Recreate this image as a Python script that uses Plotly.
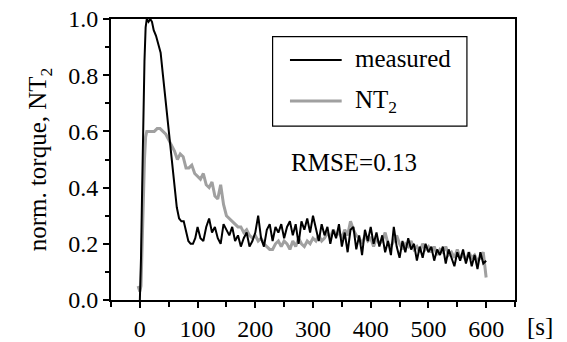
import plotly.graph_objects as go

# ---- data ----
t_meas = [0, 2, 4, 6, 8, 10, 12, 15, 18, 21, 24, 28, 32, 36, 40, 44, 48, 52, 56, 60,
          64, 68, 72, 76, 80, 84, 88, 92, 96, 100,
          105, 110, 115, 120, 125, 130, 135, 140, 145, 150, 155, 160, 165, 170, 175, 180,
          185, 190, 195, 200, 205, 210, 215, 220, 225, 230, 235, 240, 245, 250, 255, 260,
          265, 270, 275, 280, 285, 290, 295, 300, 305, 310, 315, 320, 325, 330, 335, 340,
          345, 350, 355, 360, 365, 370, 375, 380, 385, 390, 395, 400, 405, 410, 415, 420,
          425, 430, 435, 440, 445, 450, 455, 460, 465, 470, 475, 480, 485, 490, 495, 500,
          505, 510, 515, 520, 525, 530, 535, 540, 545, 550, 555, 560, 565, 570, 575, 580,
          585, 590, 595, 600]
measured = [0.00, 0.15, 0.40, 0.65, 0.85, 0.97, 1.00, 0.99, 1.00, 0.99, 0.96, 0.94, 0.91, 0.88, 0.80, 0.72, 0.63, 0.56, 0.48, 0.40,
            0.33, 0.29, 0.28, 0.28, 0.25, 0.21, 0.20, 0.20, 0.22, 0.26,
            0.22, 0.21, 0.26, 0.29, 0.24, 0.26, 0.22, 0.20, 0.27, 0.25, 0.23, 0.26, 0.21, 0.23, 0.19, 0.22,
            0.24, 0.19, 0.21, 0.24, 0.30, 0.22, 0.19, 0.25, 0.27, 0.21, 0.26, 0.24, 0.27, 0.22, 0.26, 0.28,
            0.23, 0.27, 0.20, 0.28, 0.25, 0.29, 0.24, 0.30, 0.25, 0.21, 0.27, 0.23, 0.26, 0.20, 0.25, 0.22,
            0.27, 0.19, 0.24, 0.17, 0.25, 0.26, 0.18, 0.23, 0.16, 0.25, 0.21, 0.26, 0.20, 0.24, 0.19, 0.23,
            0.17, 0.21, 0.16, 0.26, 0.19, 0.15, 0.21, 0.17, 0.22, 0.18, 0.20, 0.14, 0.19, 0.15, 0.20, 0.17,
            0.19, 0.14, 0.18, 0.16, 0.19, 0.13, 0.18, 0.15, 0.12, 0.17, 0.14, 0.18, 0.13, 0.17, 0.12, 0.16,
            0.11, 0.17, 0.13, 0.14]

t_nt2 = [-3, 0, 2, 4, 6, 8, 10, 12, 15, 20, 25, 30, 35, 40, 45, 50, 55, 60, 65, 70, 75, 80,
         85, 90, 95, 100, 105, 110, 115, 120, 125, 130, 135, 140, 145, 150, 155, 160, 165, 170,
         175, 180, 185, 190, 195, 200, 205, 210, 215, 220, 225, 230, 235, 240, 245, 250, 255, 260,
         265, 270, 275, 280, 285, 290, 295, 300, 305, 310, 315, 320, 325, 330, 335, 340, 345, 350,
         355, 360, 365, 370, 375, 380, 385, 390, 395, 400, 405, 410, 415, 420, 425, 430, 435, 440,
         445, 450, 455, 460, 465, 470, 475, 480, 485, 490, 495, 500, 505, 510, 515, 520, 525, 530,
         535, 540, 545, 550, 555, 560, 565, 570, 575, 580, 585, 590, 595, 600]
nt2 = [0.05, 0.03, 0.05, 0.20, 0.38, 0.50, 0.58, 0.60, 0.60, 0.60, 0.60, 0.61, 0.61, 0.60, 0.59, 0.57, 0.55, 0.53, 0.50, 0.52, 0.51, 0.47,
       0.47, 0.48, 0.45, 0.44, 0.43, 0.45, 0.41, 0.40, 0.42, 0.37, 0.36, 0.41, 0.34, 0.30, 0.29, 0.28, 0.27, 0.26,
       0.26, 0.24, 0.25, 0.23, 0.22, 0.23, 0.21, 0.22, 0.20, 0.19, 0.18, 0.18, 0.20, 0.21, 0.19, 0.21, 0.20, 0.18,
       0.21, 0.19, 0.22, 0.20, 0.19, 0.21, 0.20, 0.22, 0.21, 0.23, 0.21, 0.22, 0.24, 0.22, 0.25, 0.23, 0.24, 0.22,
       0.25, 0.23, 0.28, 0.25, 0.23, 0.22, 0.20, 0.23, 0.21, 0.22, 0.19, 0.22, 0.20, 0.21, 0.24, 0.20, 0.19, 0.21,
       0.23, 0.20, 0.18, 0.20, 0.19, 0.21, 0.18, 0.19, 0.17, 0.20, 0.18, 0.19, 0.17, 0.19, 0.16, 0.18, 0.17, 0.19,
       0.16, 0.17, 0.15, 0.18, 0.15, 0.16, 0.14, 0.17, 0.15, 0.16, 0.14, 0.15, 0.17, 0.08]

series_names = ["measured", "NT<sub>2</sub>"]
rmse_text = "RMSE=0.13"
y_title = "norm. torque, NT<sub>2</sub>"
x_unit = "[s]"

FONT = "Times New Roman, Liberation Serif, DejaVu Serif, serif"
BLACK = "#000000"
GRAY = "#a0a0a0"

fig = go.Figure()
fig.add_trace(go.Scatter(x=t_nt2, y=nt2, mode="lines", name=series_names[1],
                         line=dict(color=GRAY, width=3), showlegend=False))
fig.add_trace(go.Scatter(x=t_meas, y=measured, mode="lines", name=series_names[0],
                         line=dict(color=BLACK, width=2), showlegend=False))

# manual legend box
fig.add_shape(type="rect", xref="paper", yref="paper", x0=0.400, x1=0.881, y0=0.619, y1=0.937,
              line=dict(color=BLACK, width=1.2), fillcolor="white")
fig.add_shape(type="line", xref="paper", yref="paper", x0=0.443, x1=0.571, y0=0.854, y1=0.854,
              line=dict(color=BLACK, width=2))
fig.add_shape(type="line", xref="paper", yref="paper", x0=0.443, x1=0.571, y0=0.708, y1=0.708,
              line=dict(color=GRAY, width=3))
fig.add_annotation(xref="paper", yref="paper", x=0.598, y=0.858, text=series_names[0],
                   showarrow=False, xanchor="left", yanchor="middle",
                   font=dict(family=FONT, size=25, color=BLACK))
fig.add_annotation(xref="paper", yref="paper", x=0.598, y=0.705, text=series_names[1],
                   showarrow=False, xanchor="left", yanchor="middle",
                   font=dict(family=FONT, size=25, color=BLACK))
fig.add_annotation(xref="paper", yref="paper", x=0.440, y=0.49, text=rmse_text,
                   showarrow=False, xanchor="left", yanchor="middle",
                   font=dict(family=FONT, size=25, color=BLACK))
fig.add_annotation(xref="paper", yref="paper", x=1.062, y=-0.095, text=x_unit,
                   showarrow=False, xanchor="center", yanchor="middle",
                   font=dict(family=FONT, size=25, color=BLACK))

fig.update_layout(
    width=567, height=342,
    margin=dict(l=111, r=52, t=19, b=42),
    paper_bgcolor="white", plot_bgcolor="white",
    font=dict(family=FONT, size=24, color=BLACK),
)
fig.update_xaxes(range=[-50, 650], tick0=0, dtick=100, showgrid=False, zeroline=False,
                 automargin=False,
                 showline=True, linecolor=BLACK, linewidth=2, mirror=True,
                 ticks="outside", ticklen=6, tickwidth=2, tickcolor=BLACK,
                 minor=dict(tick0=0, dtick=50, ticks="outside", ticklen=5, tickwidth=2, tickcolor=BLACK),
                 tickfont=dict(family=FONT, size=24, color=BLACK))
fig.update_yaxes(range=[0, 1], dtick=0.2, tickformat=".1f", showgrid=False, zeroline=False,
                 automargin=False,
                 showline=True, linecolor=BLACK, linewidth=2, mirror=True,
                 ticks="outside", ticklen=6, tickwidth=2, tickcolor=BLACK,
                 minor=dict(dtick=0.1, ticks="outside", ticklen=4, tickwidth=2, tickcolor=BLACK),
                 tickfont=dict(family=FONT, size=24, color=BLACK),
                 title=dict(text=y_title, font=dict(family=FONT, size=25, color=BLACK), standoff=14))

fig.write_html("out.html")
